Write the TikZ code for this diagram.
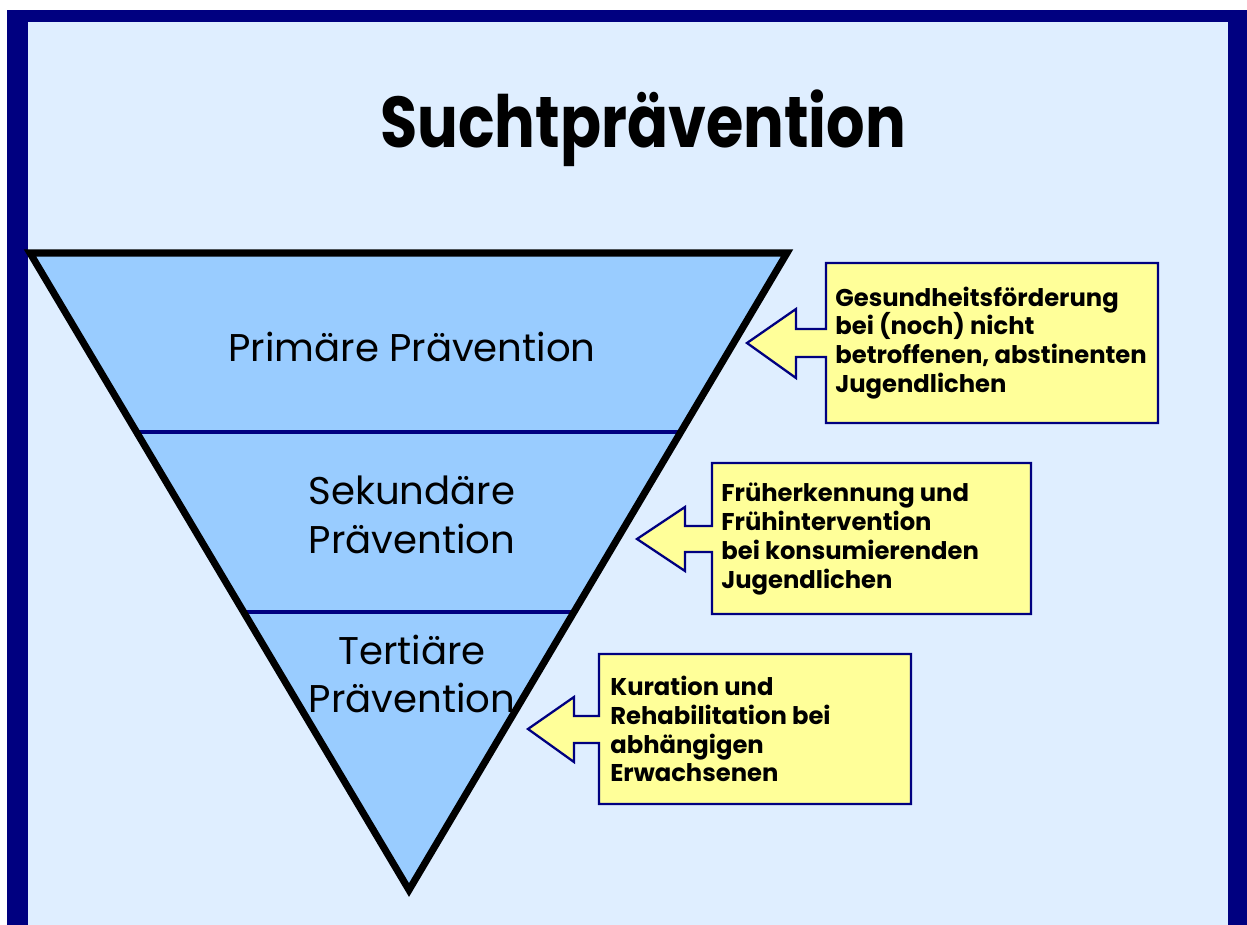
\documentclass[tikz,border=0pt]{standalone}
\usepackage{fontspec}
\setmainfont{Poppins}
\usetikzlibrary{calc}
\definecolor{framenavy}{RGB}{0,0,128}
\definecolor{paleblue}{RGB}{223,238,255}
\definecolor{layerblue}{RGB}{153,204,255}
\definecolor{noteyellow}{RGB}{255,255,153}

\begin{document}
\begin{tikzpicture}[x=0.02cm, y=-0.02cm,
  callout/.style={fill=noteyellow, draw=framenavy, line width=1.3pt, line join=miter},
  layer/.style={align=center, font=\fontsize{22}{27.5}\selectfont},
  note/.style={anchor=west, align=left, inner sep=0pt, font=\bfseries\fontsize{13.8}{16.4}\selectfont}]
  \useasboundingbox (0,0) rectangle (1247,925);
  \fill[white] (0,0) rectangle (1247,925);
  \fill[framenavy] (7,10) rectangle (1247,925);
  \fill[paleblue] (28,22) rectangle (1228,925);

  \node (title) at (643,148) [anchor=base, font=\bfseries\fontsize{41}{48}\selectfont] {\scalebox{0.84}[1]{Suchtprävention}};

  % funnel
  \coordinate (tl) at (30,253);
  \coordinate (tr) at (787,253);
  \coordinate (bt) at (409,890);
  \fill[layerblue] (tl) -- (tr) -- (bt) -- cycle;
  \draw[framenavy, line width=2.6pt] ($(tl)!0.281!(bt)$) -- ($(tr)!0.281!(bt)$);
  \draw[framenavy, line width=2.6pt] ($(tl)!0.5636!(bt)$) -- ($(tr)!0.5636!(bt)$);
  \draw[line width=4pt, line join=miter] (tl) -- (tr) -- (bt) -- cycle;

  \node (primaer) at (412,347) [layer] {Primäre Prävention};
  \node (sekundaer) at (412,515) [layer] {Sekundäre\\Prävention};
  \node (tertiaer) at (412,674) [layer] {Tertiäre\\Prävention};

  % callouts
  \draw[callout] (826,263) -- (1158,263) -- (1158,423) -- (826,423) -- (826,357) -- (796,357) -- (796,378)
    -- (747,343) -- (796,309) -- (796,329) -- (826,329) -- cycle;
  \node (gesund) at (835,343) [note] {Gesundheitsförderung\\bei (noch) nicht\\betroffenen, abstinenten\\Jugendlichen};

  \draw[callout] (712,463) -- (1031,463) -- (1031,614) -- (712,614) -- (712,552) -- (685,552) -- (685,571)
    -- (637,539) -- (685,507) -- (685,526) -- (712,526) -- cycle;
  \node (frueh) at (721,539) [note] {Früherkennung und\\Frühintervention\\bei konsumierenden\\Jugendlichen};

  \draw[callout] (599,654) -- (911,654) -- (911,804) -- (599,804) -- (599,743) -- (574,743) -- (574,762)
    -- (528,729) -- (574,697) -- (574,716) -- (599,716) -- cycle;
  \node (kuration) at (610,729) [note] {Kuration und\\Rehabilitation bei\\abhängigen\\Erwachsenen};
\end{tikzpicture}
\end{document}
